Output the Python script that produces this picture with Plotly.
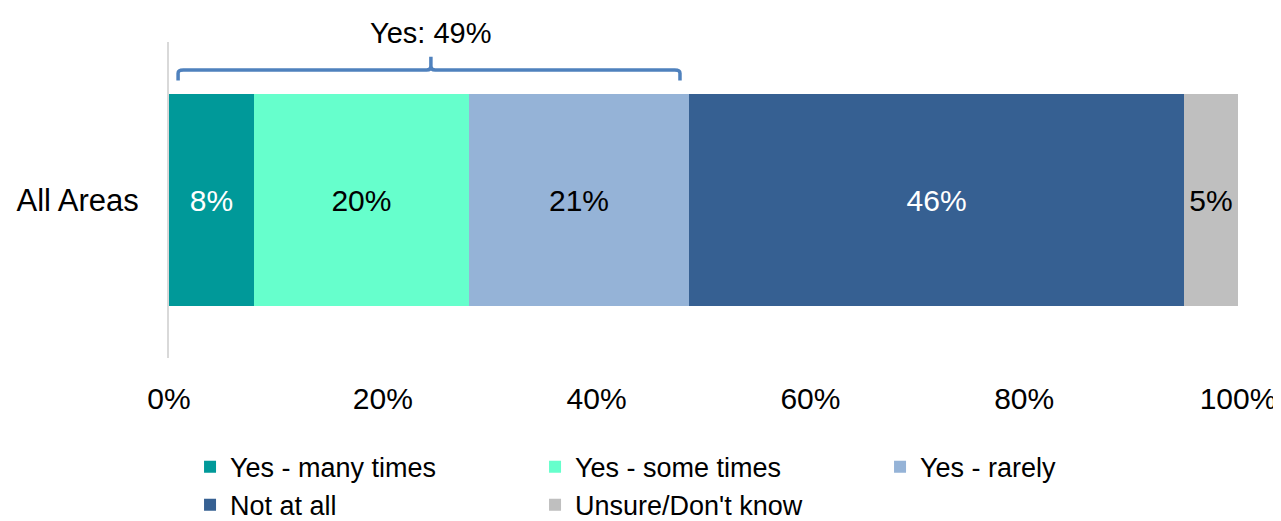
import plotly.graph_objects as go

categories = ["All Areas"]
series_names = ["Yes - many times", "Yes - some times", "Yes - rarely", "Not at all", "Unsure/Don't know"]
series_values = [7.95, 20.1, 20.6, 46.3, 5.05]
colors = ["#009999", "#66FFCC", "#95B3D7", "#366092", "#BFBFBF"]
text_colors = ["white", "black", "black", "white", "black"]
tick_vals = [0, 20, 40, 60, 80, 100]
tick_text = ["0%", "20%", "40%", "60%", "80%", "100%"]
bracket_label = "Yes: 49%"
bracket_start, bracket_mid, bracket_end = 0.85, 24.5, 47.8

FONT = "Liberation Sans, Arial, sans-serif"

fig = go.Figure()
for name, val, col, tc in zip(series_names, series_values, colors, text_colors):
    fig.add_trace(go.Bar(
        y=categories, x=[val], name=name, orientation="h",
        marker=dict(color=col, line=dict(width=0)),
        width=0.67,
        text=[f"{val:.0f}%"], textposition="inside", insidetextanchor="middle",
        textfont=dict(color=tc, size=30, family=FONT),
        constraintext="none",
    ))

# bracket
y_line, y_end, y_tip = 0.911, 0.878, 0.953
path = (f"M {bracket_start},{y_end} L {bracket_start},{y_line-0.01} "
        f"Q {bracket_start},{y_line} {bracket_start+0.5},{y_line} "
        f"L {bracket_mid-0.4},{y_line} Q {bracket_mid},{y_line} {bracket_mid},{y_line+0.012} "
        f"L {bracket_mid},{y_tip} "
        f"M {bracket_mid},{y_line+0.012} Q {bracket_mid},{y_line} {bracket_mid+0.4},{y_line} "
        f"L {bracket_end-0.5},{y_line} Q {bracket_end},{y_line} {bracket_end},{y_line-0.01} "
        f"L {bracket_end},{y_end}")
fig.add_shape(type="path", path=path, xref="x", yref="paper",
              line=dict(color="#4F81BD", width=3.5))
fig.add_annotation(x=bracket_mid, y=1.03, xref="x", yref="paper", text=bracket_label,
                   showarrow=False, font=dict(size=29, color="black", family=FONT),
                   yanchor="middle")

fig.update_layout(
    barmode="stack",
    width=1273, height=513,
    margin=dict(l=161, r=43, t=34, b=163, autoexpand=False),
    plot_bgcolor="white", paper_bgcolor="white",
    font=dict(family=FONT, size=30, color="black"),
    xaxis=dict(range=[0, 100], tickvals=tick_vals, ticktext=tick_text, showgrid=False,
               zeroline=False, showline=False, ticks="outside", ticklen=14,
               tickcolor="rgba(0,0,0,0)", tickfont=dict(size=30, family=FONT),
               automargin=False),
    yaxis=dict(showline=True, linecolor="#D9D9D9", linewidth=2, showgrid=False,
               ticks="outside", ticklen=22, tickcolor="rgba(0,0,0,0)",
               tickfont=dict(size=31, family=FONT), automargin=False),
    legend=dict(orientation="h", xref="container", yref="container", x=0.143, y=0.068,
                xanchor="left", yanchor="middle", entrywidth=300, entrywidthmode="pixels",
                font=dict(size=27, family=FONT), traceorder="normal",
                itemclick=False, tracegroupgap=0),
    showlegend=True,
)

fig.write_html("out.html")
